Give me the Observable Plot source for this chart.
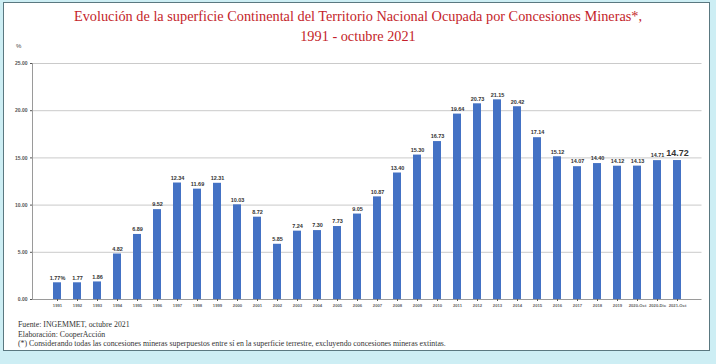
<!DOCTYPE html>
<html><head><meta charset="utf-8">
<script src="https://cdn.jsdelivr.net/npm/d3@7"></script>
<script src="https://cdn.jsdelivr.net/npm/@observablehq/plot@0.6"></script>
<style>
body{margin:0;width:716px;height:364px;background:#cdeef4;position:relative;overflow:hidden;font-family:"Liberation Serif","DejaVu Serif",serif}
#frame{position:absolute;left:3px;top:2px;width:707px;height:349px;background:#fff;border:1px solid #5a7880;box-sizing:border-box}
#title{position:absolute;left:0;top:6px;width:716px;text-align:center;color:#c41e2a;font-size:14.3px;line-height:20px}
#pct{position:absolute;left:16px;top:43px;font-size:6px;color:#444;font-family:Arial,sans-serif}
#chart{position:absolute;left:0;top:45px}
#foot{position:absolute;left:18px;top:320px;font-size:7.8px;line-height:9.5px;color:#333}
</style></head>
<body>
<div id="frame"></div>
<div id="title">Evolución de la superficie Continental del Territorio Nacional Ocupada por Concesiones Mineras*,<br>1991 - octubre 2021</div>
<div id="pct">%</div>
<div id="chart"></div>
<div id="foot">Fuente: INGEMMET, octubre 2021<br>Elaboración: CooperAcción<br>(*) Considerando todas las concesiones mineras superpuestos entre sí en la superficie terrestre, excluyendo concesiones mineras extintas.</div>
<script>
const periodos = ["1991","1992","1993","1994","1995","1996","1997","1998","1999","2000","2001","2002","2003","2004","2005","2006","2007","2008","2009","2010","2011","2012","2013","2014","2015","2016","2017","2018","2019","2020-Oct","2020-Dic","2021-Oct"];
const valores = [1.77,1.77,1.86,4.82,6.89,9.52,12.34,11.69,12.31,10.03,8.72,5.85,7.24,7.30,7.73,9.05,10.87,13.40,15.30,16.73,19.64,20.73,21.15,20.42,17.14,15.12,14.07,14.40,14.12,14.13,14.71,14.72];
const yTicks = [0,5,10,15,20,25];

const data = periodos.map((p,i)=>({
  periodo:p, valor:valores[i],
  etiqueta: i===0 ? valores[i].toFixed(2)+"%" : valores[i].toFixed(2)
}));
const resto = data.slice(0,-1);
const ultimo = data.slice(-1);

const chart = Plot.plot({
  width:716, height:270,
  marginLeft:32, marginRight:14.5, marginTop:18, marginBottom:16,
  x:{domain:periodos, paddingInner:0.58, paddingOuter:0.29, label:null, tickSize:2, tickPadding:3},
  y:{domain:[0,25], ticks:yTicks, tickFormat:d3.format(".2f"), label:null, tickSize:2, tickPadding:3},
  style:{fontFamily:"Arial, sans-serif", fontSize:"5px", color:"#555", background:"transparent", fontWeight:"bold"},
  marks:[
    Plot.ruleY(yTicks.slice(1), {stroke:"#bcbcbc", strokeWidth:0.8}),
    Plot.barY(data, {x:"periodo", y:"valor", fill:"#4472c4"}),
    Plot.ruleY([0], {stroke:"#9a9a9a"}),
    Plot.frame({anchor:"left", stroke:"#9a9a9a"}),
    Plot.axisX({fontSize:4.2, tickSize:2, tickPadding:3, label:null, fill:"#666"}),
    Plot.text(resto, {x:"periodo", y:"valor", text:"etiqueta", dy:-5, fontSize:5.5, fontWeight:"bold", fill:"#333"}),
    Plot.text(ultimo, {x:"periodo", y:"valor", text:"etiqueta", dy:-7, fontSize:9, fontWeight:"bold", fill:"#333"})
  ]
});
document.getElementById("chart").appendChild(chart);
</script>
</body></html>
